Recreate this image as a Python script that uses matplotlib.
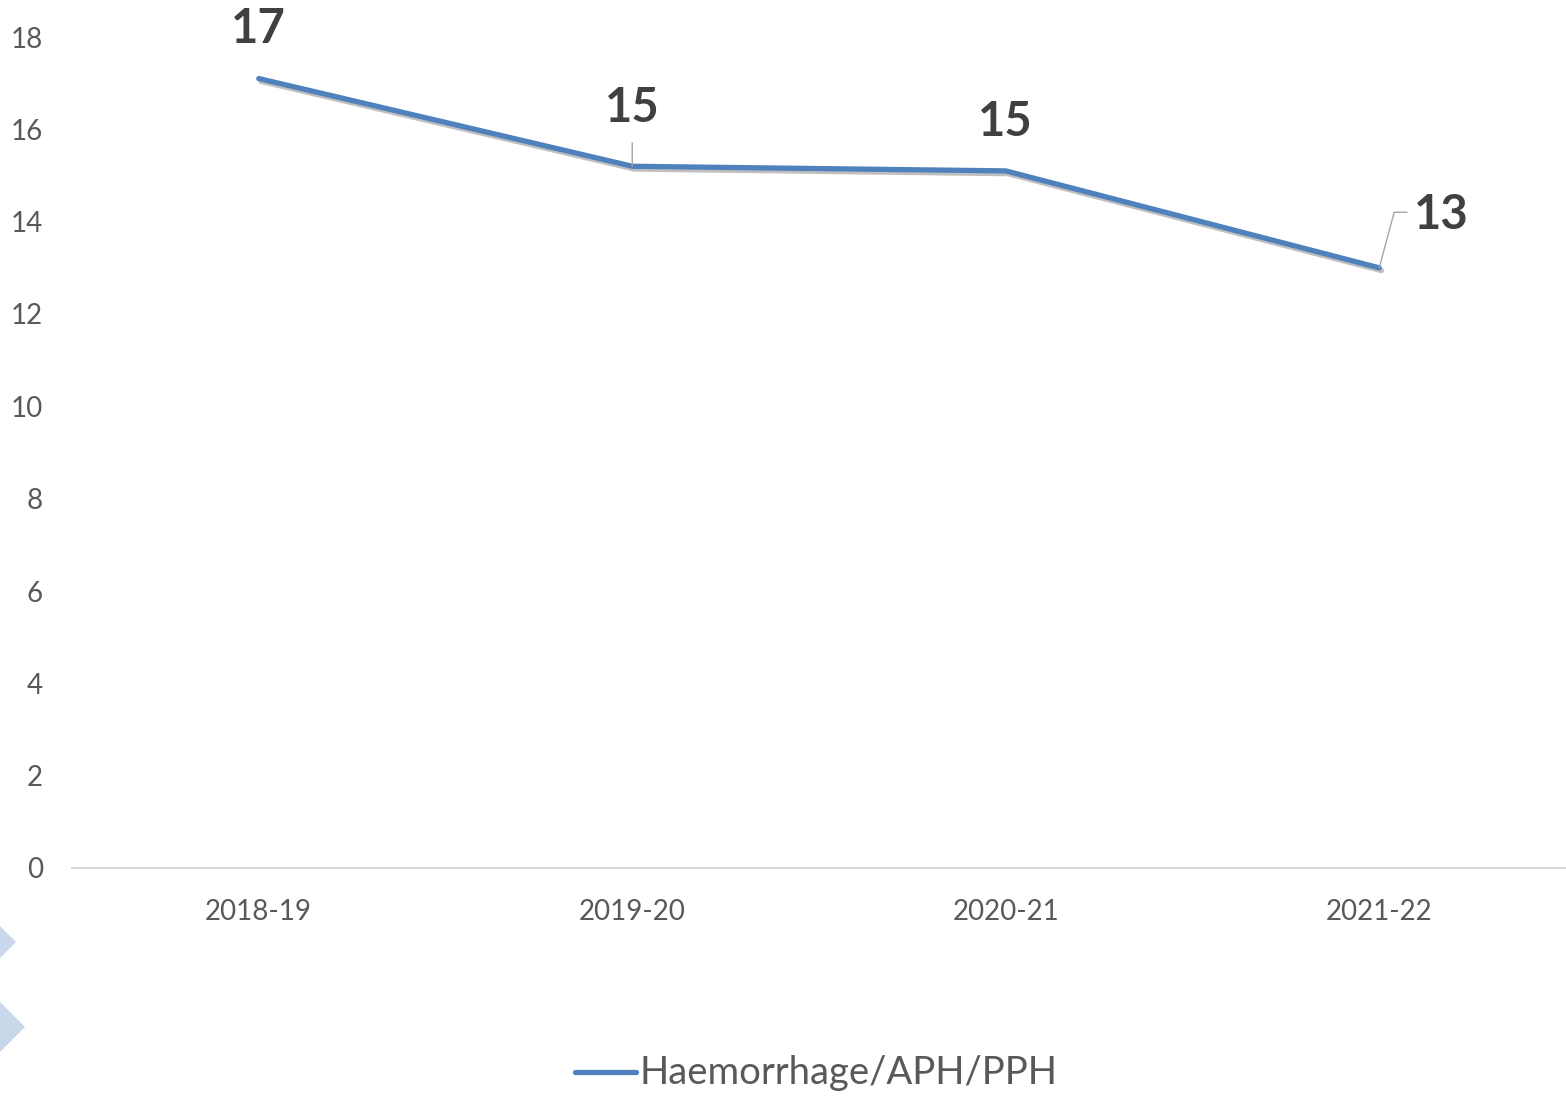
import matplotlib.pyplot as plt
import matplotlib.patheffects as pe
from matplotlib.patches import Polygon

# data
years = ["2018-19", "2019-20", "2020-21", "2021-22"]
cases = [17.1, 15.2, 15.1, 13.0]
series_name = "Haemorrhage/APH/PPH"
y_ticks = list(range(0, 20, 2))

blue = "#4f81bd"
grey_txt = "#595959"
dark_txt = "#404040"

plt.rcParams['font.family'] = ['Lato', 'DejaVu Sans']

fig = plt.figure(figsize=(15.66, 10.97), dpi=100)
ax = fig.add_axes([72 / 1566, 1 - 868 / 1097, 1 - 72 / 1566, (868 - 37) / 1097])

x = list(range(len(years)))
ax.plot(x, cases, color=blue, lw=3.8, solid_capstyle='round', solid_joinstyle='round',
        label=series_name,
        path_effects=[pe.SimpleLineShadow(offset=(1.5, -2), shadow_color='#000000', alpha=0.25),
                      pe.Normal()])

ax.set_xlim(-0.5, len(years) - 0.5)
ax.set_ylim(0, 18)
ax.set_xticks(x)
ax.set_xticklabels(years)
ax.set_yticks(y_ticks)
ax.tick_params(axis='both', length=0, labelsize=20, labelcolor=grey_txt)
ax.tick_params(axis='y', pad=21)
ax.tick_params(axis='x', pad=22)
for s in ['top', 'right', 'left']:
    ax.spines[s].set_visible(False)
ax.spines['bottom'].set_color('#d9d9d9')
ax.spines['bottom'].set_linewidth(1.5)

# data labels (offsets in points)
offsets = [(0, 36), (0, 42), (0, 35), (45, 38)]
for i, (xi, v) in enumerate(zip(x, cases)):
    dx, dy = offsets[i]
    ax.annotate(f"{round(v)}", (xi, v), xytext=(dx, dy), textcoords='offset points',
                ha='center', va='center', fontsize=34, fontweight='bold', color=dark_txt)

# leader lines
ax.annotate("", (x[1], cases[1]), xytext=(0, 17), textcoords='offset points',
            arrowprops=dict(arrowstyle='-', color='#a6a6a6', lw=1, shrinkA=0, shrinkB=0))
ax.annotate("", (x[3], cases[3]), xytext=(20, 40), textcoords='offset points',
            arrowprops=dict(arrowstyle='-', color='#a6a6a6', lw=1, shrinkA=0, shrinkB=0,
                            connectionstyle='angle,angleA=0,angleB=75,rad=0'))

leg = fig.legend(loc='center', bbox_to_anchor=(816 / 1566, 1 - 1073 / 1097), frameon=False,
                 fontsize=27.5, labelcolor=grey_txt, handlelength=1.6, handletextpad=0.1,
                 handleheight=0.5)
for ln in leg.get_lines():
    ln.set_path_effects([])

# decorative diamonds at the lower left
W, H = 1566, 1097
for cx, cy, r in [(-5, 942, 21), (0, 1027, 25)]:
    pts = [((cx + r) / W, 1 - cy / H), (cx / W, 1 - (cy - r) / H),
           ((cx - r) / W, 1 - cy / H), (cx / W, 1 - (cy + r) / H)]
    fig.patches.append(Polygon(pts, closed=True, transform=fig.transFigure,
                               facecolor='#c9d7ea', edgecolor='none'))

fig.savefig("out.png", dpi=100)
